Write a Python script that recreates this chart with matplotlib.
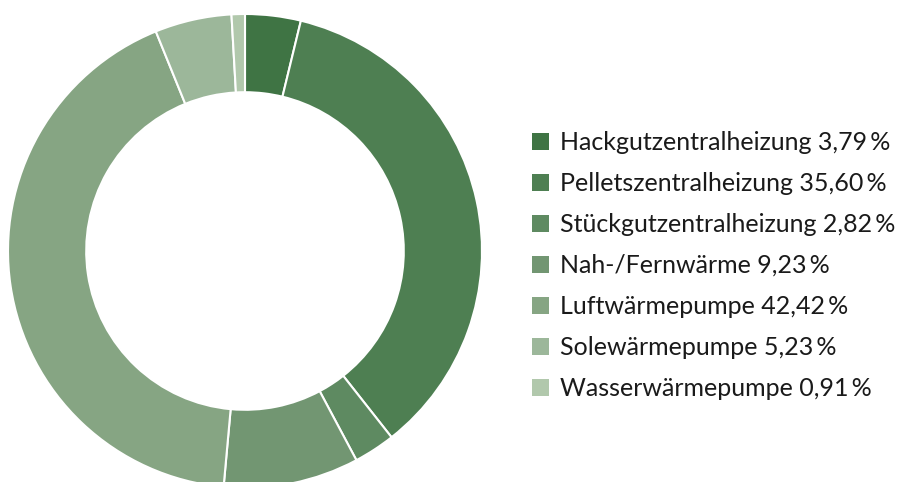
import matplotlib.pyplot as plt
from matplotlib.patches import Patch

labels = ["Hackgutzentralheizung", "Pelletszentralheizung", "Stückgutzentralheizung",
          "Nah-/Fernwärme", "Luftwärmepumpe", "Solewärmepumpe", "Wasserwärmepumpe"]
shares = [3.79, 35.60, 2.82, 9.23, 42.42, 5.23, 0.91]
colors = ["#3f7444", "#4e7f52", "#5e8a61", "#729672", "#86a583", "#9cb79a", "#b1c8ac"]

plt.rcParams['font.family'] = ['Lato', 'DejaVu Sans']

fig = plt.figure(figsize=(9.02, 4.82), dpi=100)
ax = fig.add_axes([8 / 902, -6 / 482, 474 / 902, 474 / 482])
ax.pie(shares, colors=colors, startangle=90, counterclock=False, radius=1,
       wedgeprops=dict(width=0.33, edgecolor="white", linewidth=1.5))
ax.set_xlim(-1, 1)
ax.set_ylim(-1, 1)
ax.set_aspect("equal")
ax.axis("off")

handles = [Patch(facecolor=c, edgecolor="none") for c in colors]
texts = [f"{l} {v:.2f}".replace(".", ",") + "\u2009%" for l, v in zip(labels, shares)]
fig.legend(handles, texts, loc="upper left", bbox_to_anchor=(532 / 902, 1 - 131 / 482),
           frameon=False, fontsize=18, handlelength=0.68, handleheight=0.68,
           handletextpad=0.45, labelspacing=0.72, borderaxespad=0, borderpad=0,
           labelcolor="#1a1a1a")

fig.savefig("out.png", dpi=100)
